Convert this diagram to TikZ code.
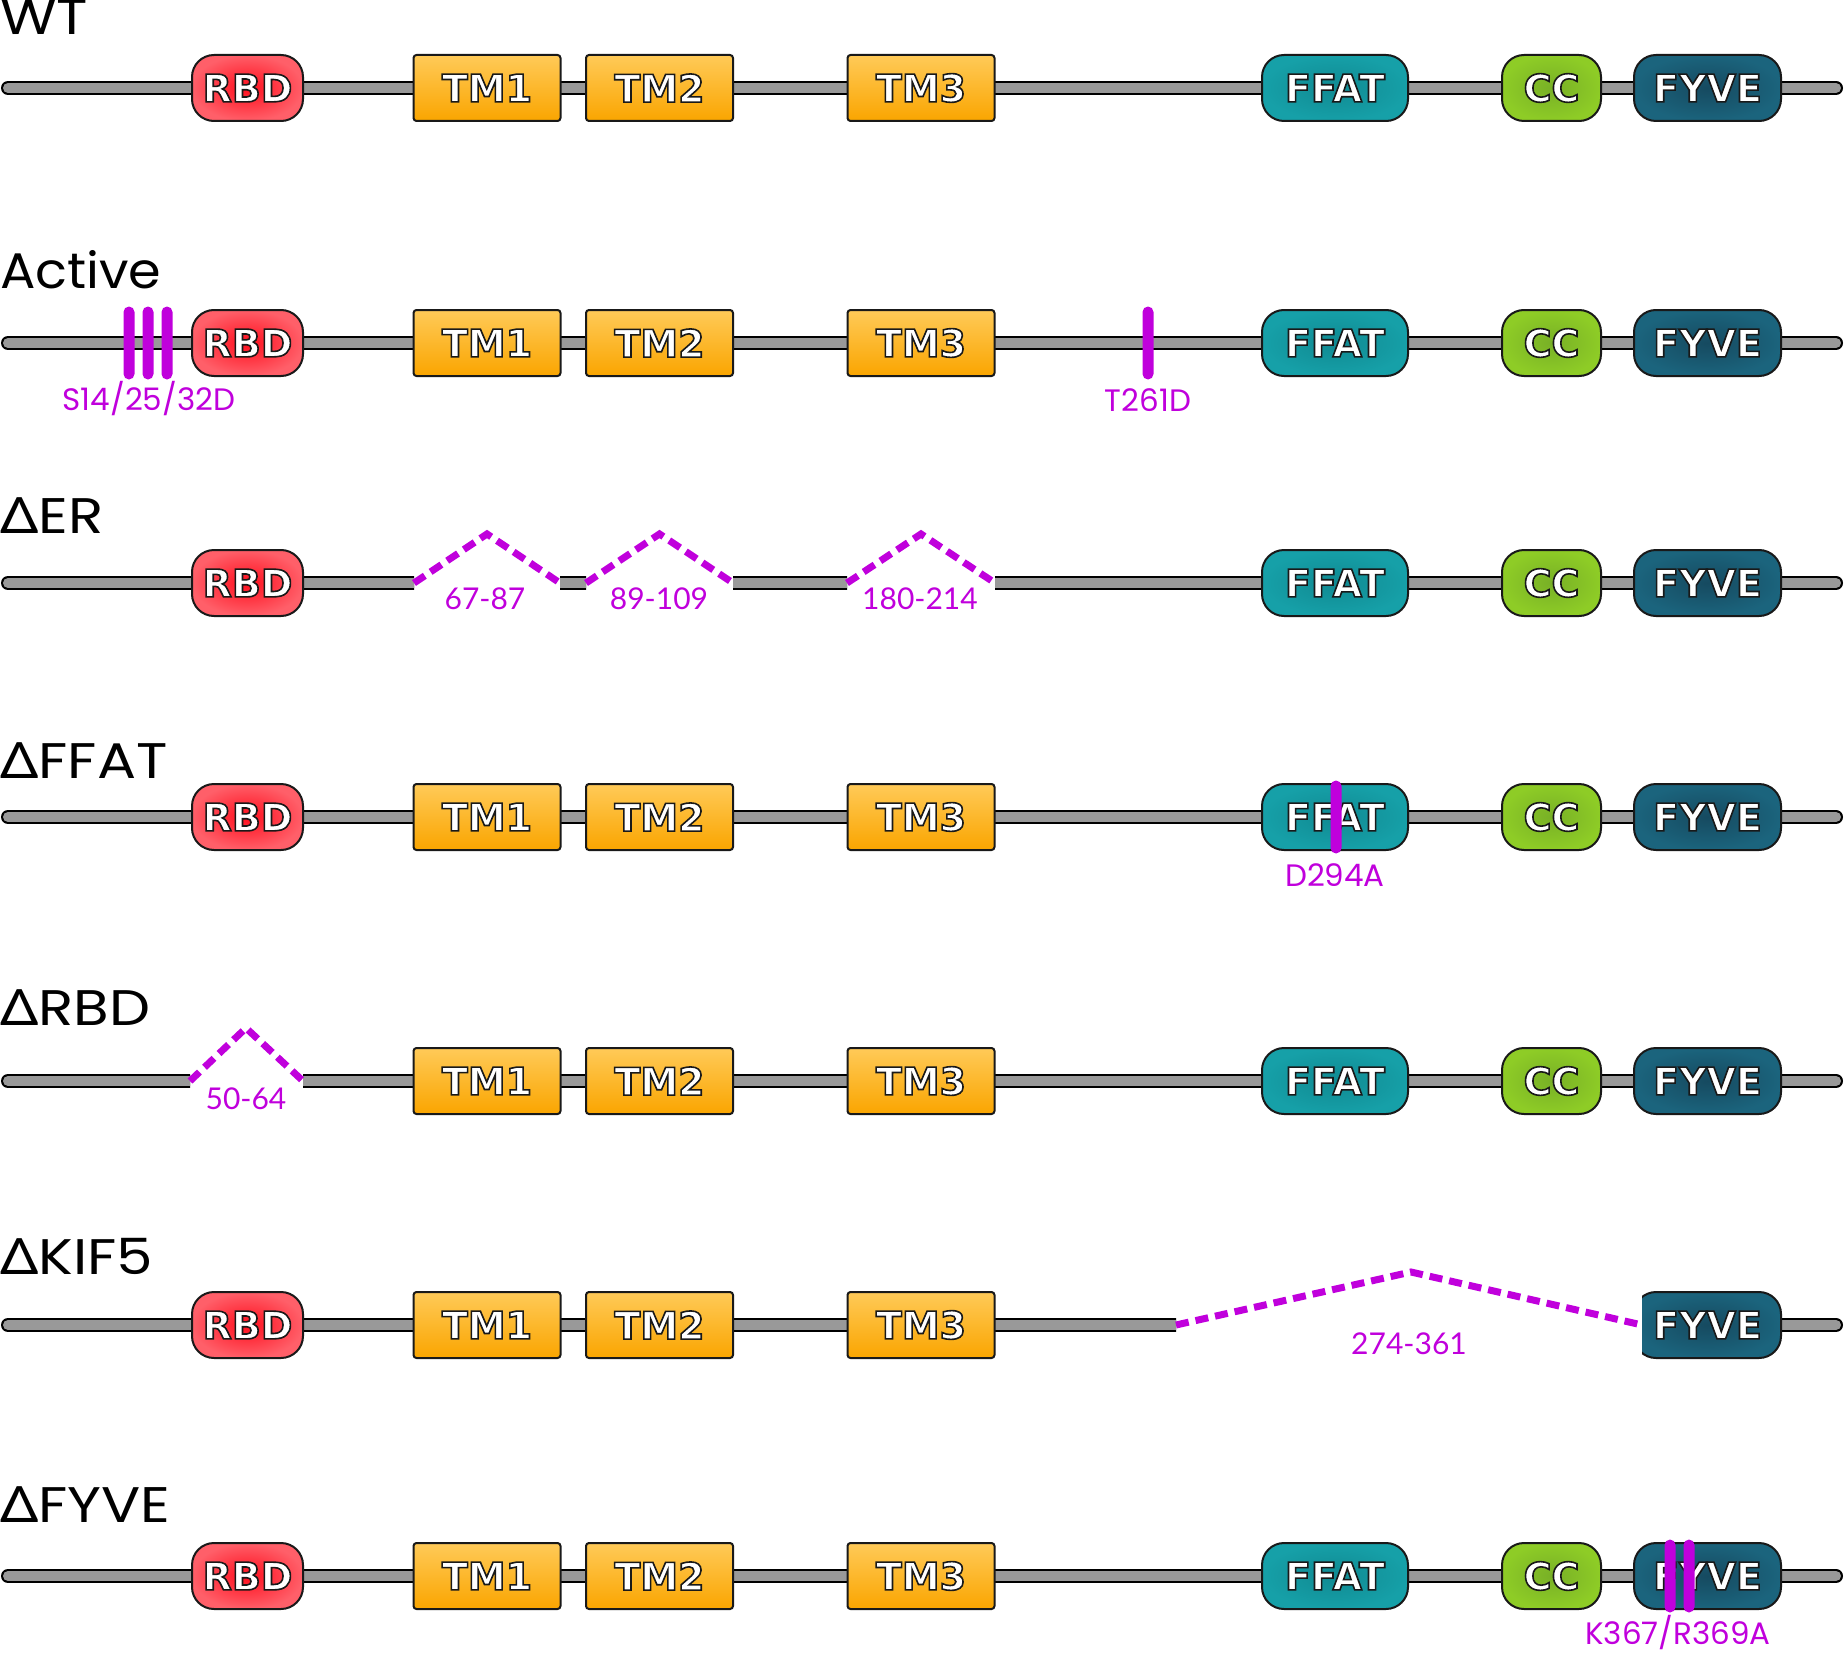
\documentclass[tikz,border=0pt]{standalone}
\usepackage{fontspec}
\setmainfont{Poppins}
\newfontfamily\rowfont[FakeStretch=1.16]{Poppins}
\newfontfamily\activefont[FakeStretch=1.05]{Poppins}
\newfontfamily\deltafont[FakeStretch=1.2]{Noto Sans}
\newfontfamily\domfont{DejaVu Sans Bold}
\newfontfamily\rangefont{Lato}
\newfontfamily\mutfont{Poppins}
\definecolor{mag}{RGB}{192,0,220}
\definecolor{bbgray}{RGB}{153,153,153}
\definecolor{boxline}{RGB}{25,25,25}
\definecolor{rbdin}{RGB}{255,15,30}
\definecolor{rbdout}{RGB}{255,95,105}
\definecolor{tmtop}{RGB}{255,202,88}
\definecolor{tmbot}{RGB}{250,165,0}
\definecolor{ffin}{RGB}{16,138,146}
\definecolor{ffout}{RGB}{22,160,168}
\definecolor{ccin}{RGB}{120,176,38}
\definecolor{ccout}{RGB}{142,204,38}
\definecolor{fyin}{RGB}{22,74,96}
\definecolor{fyout}{RGB}{27,100,125}
\newcommand\outl[1]{\special{pdf:literal direct 0.1 0.1 0.1 RG 2 Tr 1.6 w}#1\special{pdf:literal direct 0 Tr}}
\tikzset{
  box/.style={draw=boxline, line width=2pt, minimum height=66pt, inner sep=0pt, text=white,
    font=\domfont\fontsize{38}{41}\selectfont},
  rbdbox/.style={box, rounded corners=22pt, minimum width=111pt, inner color=rbdin, outer color=rbdout},
  tmbox/.style={box, rounded corners=3pt, minimum width=147pt, top color=tmtop, bottom color=tmbot},
  ffatbox/.style={box, rounded corners=22pt, minimum width=146pt, inner color=ffin, outer color=ffout},
  ccbox/.style={box, rounded corners=22pt, minimum width=99pt, inner color=ccin, outer color=ccout},
  fyvebox/.style={box, rounded corners=22pt, minimum width=147pt, inner color=fyin, outer color=fyout},
  bb/.style={draw=black, line width=2pt, double=bbgray, double distance=10pt, line cap=round},
  gapline/.style={draw=mag, line width=7pt, dash pattern=on 13pt off 7pt},
  mutbar/.style={fill=mag, rounded corners=5.5pt, minimum width=11pt, minimum height=73pt, inner sep=0pt},
  rowlab/.style={anchor=base west, inner sep=0pt, font=\rowfont\fontsize{50}{56}\selectfont},
  mutlab/.style={anchor=base, inner sep=0pt, text=mag, font=\mutfont\fontsize{31}{34}\selectfont},
  rnglab/.style={anchor=base, inner sep=0pt, text=mag, font=\rangefont\fontsize{30}{34}\selectfont},
}
\begin{document}
\begin{tikzpicture}[x=1pt,y=-1pt]
\useasboundingbox (0,0) rectangle (1844,1653);

% ---------- Row 1: WT ----------
\coordinate (s1) at (8,88); \coordinate (e1) at (1836,88);
\draw[bb] (s1) -- (e1);
\node[rbdbox] (rbd1) at (247.5,88) {\outl{RBD}};
\node[tmbox] (tma1) at (487,88) {\outl{TM1}};
\node[tmbox] (tmb1) at (659.5,88) {\outl{TM2}};
\node[tmbox] (tmc1) at (921,88) {\outl{TM3}};
\node[ffatbox] (ffat1) at (1335,88) {\outl{FFAT}};
\node[ccbox] (cc1) at (1551.5,88) {\outl{CC}};
\node[fyvebox] (fyve1) at (1707.5,88) {\outl{FYVE}};
\node[rowlab] (lab1) at (0,35) {WT};

% ---------- Row 2: Active ----------
\coordinate (s2) at (8,343); \coordinate (e2) at (1836,343);
\draw[bb] (s2) -- (e2);
\node[rbdbox] (rbd2) at (247.5,343) {\outl{RBD}};
\node[tmbox] (tma2) at (487,343) {\outl{TM1}};
\node[tmbox] (tmb2) at (659.5,343) {\outl{TM2}};
\node[tmbox] (tmc2) at (921,343) {\outl{TM3}};
\node[ffatbox] (ffat2) at (1335,343) {\outl{FFAT}};
\node[ccbox] (cc2) at (1551.5,343) {\outl{CC}};
\node[fyvebox] (fyve2) at (1707.5,343) {\outl{FYVE}};
\node[mutbar] (p14) at (129,343) {};
\node[mutbar] (p25) at (148,343) {};
\node[mutbar] (p32) at (167,343) {};
\node[mutbar] (p261) at (1148,343) {};
\node[mutlab] (ls) at (149,410) {S14/25/32D};
\node[mutlab] (lt) at (1148,411) {T261D};
\node[rowlab, font=\activefont\fontsize{50}{56}\selectfont] (lab2) at (0,288) {Active};

% ---------- Row 3: Delta ER ----------
\coordinate (s3) at (8,583); \coordinate (e3) at (1836,583);
\begin{scope}
  \clip (0,560) rectangle (414,606) (560,560) rectangle (586,606)
        (733,560) rectangle (847,606) (995,560) rectangle (1844,606);
  \draw[bb] (s3) -- (e3);
\end{scope}
\node[rbdbox] (rbd3) at (247.5,583) {\outl{RBD}};
\node[ffatbox] (ffat3) at (1335,583) {\outl{FFAT}};
\node[ccbox] (cc3) at (1551.5,583) {\outl{CC}};
\node[fyvebox] (fyve3) at (1707.5,583) {\outl{FYVE}};
\coordinate (g31l) at (414,583); \coordinate (g31p) at (487,534); \coordinate (g31r) at (560,583);
\coordinate (g32l) at (586,583); \coordinate (g32p) at (659.5,534); \coordinate (g32r) at (733,583);
\coordinate (g33l) at (847,583); \coordinate (g33p) at (921,534); \coordinate (g33r) at (995,583);
\draw[gapline] (g31l) -- (g31p) -- (g31r);
\draw[gapline] (g32l) -- (g32p) -- (g32r);
\draw[gapline] (g33l) -- (g33p) -- (g33r);
\node[rnglab] (r31) at (485,609) {67-87};
\node[rnglab] (r32) at (659,609) {89-109};
\node[rnglab] (r33) at (920,609) {180-214};
\node[rowlab] (lab3) at (0,533) {{\deltafont Δ}ER};

% ---------- Row 4: Delta FFAT ----------
\coordinate (s4) at (8,817); \coordinate (e4) at (1836,817);
\draw[bb] (s4) -- (e4);
\node[rbdbox] (rbd4) at (247.5,817) {\outl{RBD}};
\node[tmbox] (tma4) at (487,817) {\outl{TM1}};
\node[tmbox] (tmb4) at (659.5,817) {\outl{TM2}};
\node[tmbox] (tmc4) at (921,817) {\outl{TM3}};
\node[ffatbox] (ffat4) at (1335,817) {\outl{FFAT}};
\node[ccbox] (cc4) at (1551.5,817) {\outl{CC}};
\node[fyvebox] (fyve4) at (1707.5,817) {\outl{FYVE}};
\node[mutbar] (d294) at (1336,817) {};
\node[mutlab] (ld) at (1335,886) {D294A};
\node[rowlab] (lab4) at (0,778) {{\deltafont Δ}FFAT};

% ---------- Row 5: Delta RBD ----------
\coordinate (s5) at (8,1081); \coordinate (e5) at (1836,1081);
\begin{scope}
  \clip (0,1058) rectangle (190,1104) (303,1058) rectangle (1844,1104);
  \draw[bb] (s5) -- (e5);
\end{scope}
\node[tmbox] (tma5) at (487,1081) {\outl{TM1}};
\node[tmbox] (tmb5) at (659.5,1081) {\outl{TM2}};
\node[tmbox] (tmc5) at (921,1081) {\outl{TM3}};
\node[ffatbox] (ffat5) at (1335,1081) {\outl{FFAT}};
\node[ccbox] (cc5) at (1551.5,1081) {\outl{CC}};
\node[fyvebox] (fyve5) at (1707.5,1081) {\outl{FYVE}};
\coordinate (g5l) at (190,1081); \coordinate (g5p) at (246,1028); \coordinate (g5r) at (303,1081);
\draw[gapline] (g5l) -- (g5p) -- (g5r);
\node[rnglab] (r5) at (246,1109) {50-64};
\node[rowlab] (lab5) at (0,1025) {{\deltafont Δ}RBD};

% ---------- Row 6: Delta KIF5 ----------
\coordinate (s6) at (8,1325); \coordinate (e6) at (1836,1325);
\begin{scope}
  \clip (0,1302) rectangle (1176,1348) (1642,1302) rectangle (1844,1348);
  \draw[bb] (s6) -- (e6);
\end{scope}
\node[rbdbox] (rbd6) at (247.5,1325) {\outl{RBD}};
\node[tmbox] (tma6) at (487,1325) {\outl{TM1}};
\node[tmbox] (tmb6) at (659.5,1325) {\outl{TM2}};
\node[tmbox] (tmc6) at (921,1325) {\outl{TM3}};
\begin{scope}
  \clip (1642,1280) rectangle (1800,1370);
  \node[fyvebox] (fyve6) at (1707.5,1325) {\outl{FYVE}};
\end{scope}
\coordinate (g6l) at (1176,1325); \coordinate (g6p) at (1411,1272); \coordinate (g6r) at (1642,1325);
\draw[gapline] (g6l) -- (g6p) -- (g6r);
\node[rnglab] (r6) at (1409,1354) {274-361};
\node[rowlab] (lab6) at (0,1274) {{\deltafont Δ}KIF5};

% ---------- Row 7: Delta FYVE ----------
\coordinate (s7) at (8,1576); \coordinate (e7) at (1836,1576);
\draw[bb] (s7) -- (e7);
\node[rbdbox] (rbd7) at (247.5,1576) {\outl{RBD}};
\node[tmbox] (tma7) at (487,1576) {\outl{TM1}};
\node[tmbox] (tmb7) at (659.5,1576) {\outl{TM2}};
\node[tmbox] (tmc7) at (921,1576) {\outl{TM3}};
\node[ffatbox] (ffat7) at (1335,1576) {\outl{FFAT}};
\node[ccbox] (cc7) at (1551.5,1576) {\outl{CC}};
\node[fyvebox] (fyve7) at (1707.5,1576) {\outl{FYVE}};
\node[mutbar] (k367) at (1670,1576) {};
\node[mutbar] (r369) at (1689,1576) {};
\node[mutlab] (lk) at (1678,1644) {K367/R369A};
\node[rowlab] (lab7) at (0,1522) {{\deltafont Δ}FYVE};
\end{tikzpicture}
\end{document}
